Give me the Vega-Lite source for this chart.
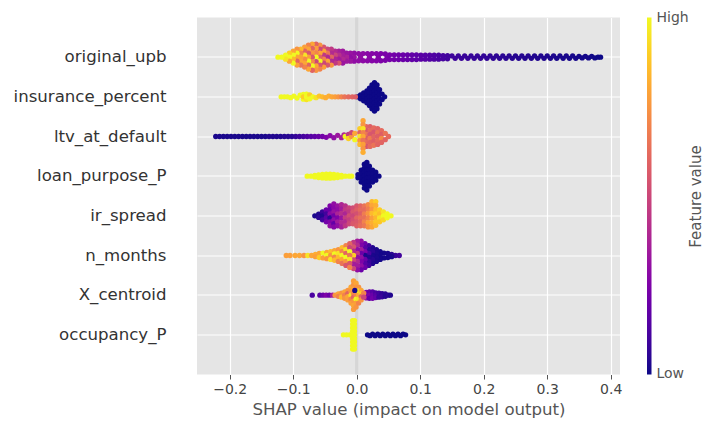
{
"$schema": "https://vega.github.io/schema/vega-lite/v6.json",
"width": 423, "height": 357,
"autosize": "none",
"padding": {"left": 197, "top": 17.5, "right": 84, "bottom": 47.5},
"background": "white",
"config": {"view": {"fill": "#e5e5e5", "stroke": null}, "font": "DejaVu Sans"},
"datasets": {
"a": [
{"x":0.003,"o":-0.09,"v":0.3},{"x":0.003,"o":0.09,"v":0.3},{"x":0.006,"o":0,"v":0.3},
{"x":0.01,"o":-0.09,"v":0.29},{"x":0.01,"o":0.09,"v":0.29},
{"x":0.017,"o":-0.09,"v":0.28},{"x":0.017,"o":0.09,"v":0.28},{"x":0.02,"o":0,"v":0.28},
{"x":0.024,"o":-0.09,"v":0.27},{"x":0.024,"o":0.09,"v":0.27},
{"x":0.031,"o":-0.09,"v":0.26},{"x":0.031,"o":0.09,"v":0.26},{"x":0.034,"o":0,"v":0.26},
{"x":0.038,"o":-0.09,"v":0.25},{"x":0.038,"o":0.09,"v":0.25},
{"x":0.045,"o":-0.08,"v":0.24},{"x":0.045,"o":0.08,"v":0.24},{"x":0.048,"o":0,"v":0.24},
{"x":0.052,"o":-0.06,"v":0.23},{"x":0.052,"o":0.06,"v":0.23},
{"x":0.059,"o":-0.06,"v":0.22},{"x":0.059,"o":0.06,"v":0.22},
{"x":0.066,"o":-0.06,"v":0.21},{"x":0.066,"o":0.06,"v":0.21},
{"x":0.073,"o":-0.06,"v":0.2},{"x":0.073,"o":0.06,"v":0.2},
{"x":0.08,"o":-0.06,"v":0.19},{"x":0.08,"o":0.06,"v":0.19},
{"x":0.087,"o":-0.06,"v":0.18},{"x":0.087,"o":0.06,"v":0.18},
{"x":0.094,"o":-0.06,"v":0.17},{"x":0.094,"o":0.06,"v":0.17},
{"x":0.101,"o":-0.05,"v":0.16},{"x":0.101,"o":0.05,"v":0.16},
{"x":0.108,"o":-0.05,"v":0.15},{"x":0.108,"o":0.05,"v":0.15},
{"x":0.115,"o":-0.05,"v":0.14},{"x":0.115,"o":0.05,"v":0.14},
{"x":0.122,"o":-0.05,"v":0.13},{"x":0.122,"o":0.05,"v":0.13},
{"x":0.129,"o":-0.05,"v":0.12},{"x":0.129,"o":0.05,"v":0.12},
{"x":0.136,"o":-0.04,"v":0.11},{"x":0.136,"o":0.04,"v":0.11},
{"x":0.143,"o":-0.04,"v":0.1},{"x":0.143,"o":0.04,"v":0.1},
{"x":0.15,"o":-0.03,"v":0.09},{"x":0.155,"o":0.03,"v":0.09},{"x":0.16,"o":-0.03,"v":0.085},{"x":0.165,"o":0.03,"v":0.085},
{"x":0.17,"o":-0.03,"v":0.08},{"x":0.175,"o":0.03,"v":0.08},{"x":0.18,"o":-0.03,"v":0.075},{"x":0.185,"o":0.03,"v":0.075},
{"x":0.19,"o":-0.03,"v":0.07},{"x":0.195,"o":0.03,"v":0.07},{"x":0.2,"o":-0.03,"v":0.065},{"x":0.205,"o":0.03,"v":0.065},
{"x":0.21,"o":-0.03,"v":0.06},{"x":0.215,"o":0.03,"v":0.06},{"x":0.22,"o":-0.03,"v":0.055},{"x":0.225,"o":0.03,"v":0.055},
{"x":0.23,"o":-0.03,"v":0.05},{"x":0.235,"o":0.03,"v":0.05},{"x":0.24,"o":-0.03,"v":0.045},{"x":0.245,"o":0.03,"v":0.045},
{"x":0.25,"o":-0.03,"v":0.04},{"x":0.255,"o":0.03,"v":0.04},{"x":0.26,"o":-0.03,"v":0.04},{"x":0.265,"o":0.03,"v":0.035},
{"x":0.27,"o":-0.03,"v":0.035},{"x":0.275,"o":0.03,"v":0.035},{"x":0.28,"o":-0.03,"v":0.03},{"x":0.285,"o":0.03,"v":0.03},
{"x":0.29,"o":-0.03,"v":0.03},{"x":0.295,"o":0.03,"v":0.03},{"x":0.3,"o":-0.03,"v":0.025},{"x":0.305,"o":0.03,"v":0.025},
{"x":0.31,"o":-0.03,"v":0.025},{"x":0.315,"o":0.03,"v":0.02},{"x":0.32,"o":-0.03,"v":0.02},{"x":0.325,"o":0.03,"v":0.02},
{"x":0.33,"o":-0.03,"v":0.02},{"x":0.335,"o":0.03,"v":0.015},{"x":0.34,"o":-0.03,"v":0.015},{"x":0.345,"o":0.03,"v":0.015},
{"x":0.35,"o":-0.02,"v":0.01},{"x":0.355,"o":0.02,"v":0.01},{"x":0.36,"o":-0.02,"v":0.01},{"x":0.365,"o":0.02,"v":0.01},
{"x":0.37,"o":-0.02,"v":0.005},{"x":0.375,"o":0.02,"v":0.005},{"x":0.38,"o":0,"v":0},{"x":0.384,"o":0,"v":0},
{"x":-0.004,"o":-0.1,"v":0.3},{"x":-0.004,"o":0,"v":0.32},{"x":-0.004,"o":0.1,"v":0.3},
{"x":-0.01,"o":-0.1,"v":0.32},{"x":-0.01,"o":0,"v":0.3},{"x":-0.01,"o":0.1,"v":0.33},
{"x":-0.016,"o":-0.1,"v":0.33},{"x":-0.016,"o":0,"v":0.38},{"x":-0.016,"o":0.1,"v":0.34},
{"x":-0.022,"o":-0.15,"v":0.34},{"x":-0.022,"o":-0.05,"v":0.36},{"x":-0.022,"o":0.05,"v":0.4},{"x":-0.022,"o":0.15,"v":0.33},
{"x":-0.028,"o":-0.15,"v":0.36},{"x":-0.028,"o":-0.05,"v":0.42},{"x":-0.028,"o":0.05,"v":0.35},{"x":-0.028,"o":0.15,"v":0.55},
{"x":-0.034,"o":-0.15,"v":0.4},{"x":-0.034,"o":-0.05,"v":0.5},{"x":-0.034,"o":0.05,"v":0.38},{"x":-0.034,"o":0.15,"v":0.45},
{"x":-0.04,"o":-0.2,"v":0.45},{"x":-0.04,"o":-0.1,"v":0.4},{"x":-0.04,"o":0,"v":0.6},{"x":-0.04,"o":0.1,"v":0.4},{"x":-0.04,"o":0.2,"v":0.75},
{"x":-0.046,"o":-0.2,"v":0.5},{"x":-0.046,"o":-0.1,"v":0.65},{"x":-0.046,"o":0,"v":0.4},{"x":-0.046,"o":0.1,"v":0.8},{"x":-0.046,"o":0.2,"v":0.55},
{"x":-0.052,"o":-0.25,"v":0.55},{"x":-0.052,"o":-0.15,"v":0.8},{"x":-0.052,"o":-0.05,"v":0.45},{"x":-0.052,"o":0.05,"v":0.7},{"x":-0.052,"o":0.15,"v":0.5},{"x":-0.052,"o":0.25,"v":0.78},
{"x":-0.058,"o":-0.3,"v":0.75},{"x":-0.058,"o":-0.2,"v":0.5},{"x":-0.058,"o":-0.1,"v":0.8},{"x":-0.058,"o":0,"v":0.6},{"x":-0.058,"o":0.1,"v":1},{"x":-0.058,"o":0.2,"v":0.55},{"x":-0.058,"o":0.3,"v":0.7},
{"x":-0.064,"o":-0.33,"v":0.6},{"x":-0.064,"o":-0.22,"v":0.78},{"x":-0.064,"o":-0.11,"v":0.7},{"x":-0.064,"o":0,"v":1},{"x":-0.064,"o":0.11,"v":0.5},{"x":-0.064,"o":0.22,"v":0.8},{"x":-0.064,"o":0.33,"v":0.75},
{"x":-0.07,"o":-0.33,"v":0.8},{"x":-0.07,"o":-0.22,"v":0.6},{"x":-0.07,"o":-0.11,"v":0.75},{"x":-0.07,"o":0,"v":0.55},{"x":-0.07,"o":0.11,"v":0.72},{"x":-0.07,"o":0.22,"v":1},{"x":-0.07,"o":0.33,"v":0.6},
{"x":-0.076,"o":-0.3,"v":0.7},{"x":-0.076,"o":-0.2,"v":0.8},{"x":-0.076,"o":-0.1,"v":0.55},{"x":-0.076,"o":0,"v":0.78},{"x":-0.076,"o":0.1,"v":1},{"x":-0.076,"o":0.2,"v":0.6},{"x":-0.076,"o":0.3,"v":0.8},
{"x":-0.082,"o":-0.25,"v":0.78},{"x":-0.082,"o":-0.15,"v":0.6},{"x":-0.082,"o":-0.05,"v":0.95},{"x":-0.082,"o":0.05,"v":0.72},{"x":-0.082,"o":0.15,"v":0.8},{"x":-0.082,"o":0.25,"v":0.7},
{"x":-0.088,"o":-0.2,"v":0.85},{"x":-0.088,"o":-0.1,"v":0.7},{"x":-0.088,"o":0,"v":0.78},{"x":-0.088,"o":0.1,"v":0.8},{"x":-0.088,"o":0.2,"v":0.65},
{"x":-0.094,"o":-0.2,"v":0.75},{"x":-0.094,"o":-0.1,"v":1},{"x":-0.094,"o":0,"v":0.8},{"x":-0.094,"o":0.1,"v":0.6},{"x":-0.094,"o":0.2,"v":0.78},
{"x":-0.1,"o":-0.15,"v":0.8},{"x":-0.1,"o":-0.05,"v":1},{"x":-0.1,"o":0.05,"v":0.85},{"x":-0.1,"o":0.15,"v":1},
{"x":-0.106,"o":-0.1,"v":0.9},{"x":-0.106,"o":0,"v":1},{"x":-0.106,"o":0.1,"v":0.8},
{"x":-0.112,"o":-0.05,"v":1},{"x":-0.112,"o":0.05,"v":0.95},
{"x":-0.118,"o":0,"v":1},{"x":-0.124,"o":0,"v":1}
],
"b": [
{"x":0.001,"o":0,"v":0},
{"x":0.006,"o":-0.05,"v":0},{"x":0.006,"o":0.05,"v":0},
{"x":0.011,"o":-0.1,"v":0},{"x":0.011,"o":0,"v":0},{"x":0.011,"o":0.1,"v":0},
{"x":0.016,"o":-0.15,"v":0},{"x":0.016,"o":-0.05,"v":0},{"x":0.016,"o":0.05,"v":0},{"x":0.016,"o":0.15,"v":0},
{"x":0.02,"o":-0.22,"v":0},{"x":0.02,"o":-0.11,"v":0},{"x":0.02,"o":0,"v":0},{"x":0.02,"o":0.11,"v":0},{"x":0.02,"o":0.22,"v":0},
{"x":0.024,"o":-0.3,"v":0},{"x":0.024,"o":-0.2,"v":0},{"x":0.024,"o":-0.1,"v":0},{"x":0.024,"o":0,"v":0},{"x":0.024,"o":0.1,"v":0},{"x":0.024,"o":0.2,"v":0},{"x":0.024,"o":0.3,"v":0},
{"x":0.028,"o":-0.36,"v":0},{"x":0.028,"o":-0.26,"v":0},{"x":0.028,"o":-0.15,"v":0},{"x":0.028,"o":-0.05,"v":0},{"x":0.028,"o":0.05,"v":0},{"x":0.028,"o":0.15,"v":0},{"x":0.028,"o":0.26,"v":0},{"x":0.028,"o":0.36,"v":0},
{"x":0.032,"o":-0.3,"v":0},{"x":0.032,"o":-0.2,"v":0},{"x":0.032,"o":-0.1,"v":0},{"x":0.032,"o":0,"v":0},{"x":0.032,"o":0.1,"v":0},{"x":0.032,"o":0.2,"v":0},{"x":0.032,"o":0.3,"v":0},
{"x":0.036,"o":-0.18,"v":0},{"x":0.036,"o":-0.06,"v":0},{"x":0.036,"o":0.06,"v":0},{"x":0.036,"o":0.18,"v":0},
{"x":0.04,"o":-0.07,"v":0},{"x":0.04,"o":0.07,"v":0},{"x":0.044,"o":0,"v":0},
{"x":-0.119,"o":0,"v":1},{"x":-0.114,"o":0,"v":1},{"x":-0.109,"o":0,"v":1},{"x":-0.104,"o":0.02,"v":1},{"x":-0.099,"o":-0.02,"v":1},
{"x":-0.094,"o":0.03,"v":1},{"x":-0.089,"o":-0.04,"v":1},
{"x":-0.084,"o":-0.06,"v":1},{"x":-0.084,"o":0.06,"v":1},{"x":-0.084,"o":0,"v":0.9},
{"x":-0.079,"o":-0.07,"v":1},{"x":-0.079,"o":0.07,"v":0.95},{"x":-0.079,"o":0,"v":1},
{"x":-0.074,"o":-0.05,"v":0.9},{"x":-0.074,"o":0.05,"v":1},
{"x":-0.069,"o":0,"v":1},{"x":-0.064,"o":0.02,"v":0.95},{"x":-0.059,"o":-0.02,"v":0.88},{"x":-0.054,"o":0,"v":0.85},
{"x":-0.049,"o":0.02,"v":0.82},{"x":-0.044,"o":-0.02,"v":0.82},{"x":-0.039,"o":0,"v":0.8},{"x":-0.034,"o":0,"v":0.78},
{"x":-0.029,"o":0,"v":0.75},{"x":-0.024,"o":0,"v":0.7},{"x":-0.019,"o":0,"v":0.65},{"x":-0.013,"o":0,"v":0.62},
{"x":-0.007,"o":0,"v":0.6},{"x":-0.002,"o":0,"v":0.58}
],
"c": [
{"x":-0.222,"o":0,"v":0.02},{"x":-0.216,"o":0,"v":0.02},{"x":-0.21,"o":0,"v":0.02},{"x":-0.204,"o":0,"v":0.02},
{"x":-0.198,"o":0,"v":0.02},{"x":-0.192,"o":0,"v":0.02},{"x":-0.186,"o":0,"v":0.02},{"x":-0.18,"o":0,"v":0.02},
{"x":-0.174,"o":0,"v":0.02},{"x":-0.168,"o":0,"v":0.02},{"x":-0.162,"o":0,"v":0.02},{"x":-0.156,"o":0,"v":0.02},
{"x":-0.15,"o":0,"v":0.02},{"x":-0.144,"o":0,"v":0.02},{"x":-0.138,"o":0,"v":0.03},{"x":-0.132,"o":0,"v":0.03},
{"x":-0.126,"o":0,"v":0.03},{"x":-0.12,"o":0,"v":0.03},{"x":-0.114,"o":0,"v":0.04},{"x":-0.108,"o":0,"v":0.04},
{"x":-0.102,"o":0,"v":0.05},{"x":-0.096,"o":0,"v":0.07},{"x":-0.09,"o":0,"v":0.09},{"x":-0.084,"o":0,"v":0.11},
{"x":-0.078,"o":0,"v":0.13},{"x":-0.072,"o":0,"v":0.15},{"x":-0.066,"o":0,"v":0.17},{"x":-0.06,"o":0,"v":0.19},
{"x":-0.054,"o":0,"v":0.22},{"x":-0.048,"o":0.02,"v":0.25},{"x":-0.042,"o":-0.02,"v":0.28},{"x":-0.036,"o":0.03,"v":0.3},
{"x":-0.03,"o":-0.03,"v":0.33},{"x":-0.024,"o":0.03,"v":0.36},{"x":-0.02,"o":-0.04,"v":0.4},
{"x":-0.018,"o":0,"v":1},{"x":-0.013,"o":-0.05,"v":0.45},{"x":-0.013,"o":0.05,"v":0.9},
{"x":-0.008,"o":0,"v":0.75},{"x":-0.008,"o":-0.1,"v":0.5},{"x":-0.003,"o":0.08,"v":1},{"x":-0.003,"o":-0.08,"v":0.8},
{"x":0.015,"o":-0.25,"v":0.6},{"x":0.015,"o":-0.15,"v":0.55},{"x":0.015,"o":-0.05,"v":0.65},{"x":0.015,"o":0.05,"v":0.58},{"x":0.015,"o":0.15,"v":0.62},{"x":0.015,"o":0.25,"v":0.55},
{"x":0.021,"o":-0.25,"v":0.58},{"x":0.021,"o":-0.15,"v":0.62},{"x":0.021,"o":-0.05,"v":0.55},{"x":0.021,"o":0.05,"v":0.68},{"x":0.021,"o":0.15,"v":0.6},{"x":0.021,"o":0.25,"v":0.62},
{"x":0.027,"o":-0.22,"v":0.62},{"x":0.027,"o":-0.11,"v":0.55},{"x":0.027,"o":0,"v":0.6},{"x":0.027,"o":0.11,"v":0.58},{"x":0.027,"o":0.22,"v":0.65},
{"x":0.033,"o":-0.2,"v":0.6},{"x":0.033,"o":-0.1,"v":0.65},{"x":0.033,"o":0,"v":0.58},{"x":0.033,"o":0.1,"v":0.62},{"x":0.033,"o":0.2,"v":0.6},
{"x":0.039,"o":-0.15,"v":0.62},{"x":0.039,"o":-0.05,"v":0.58},{"x":0.039,"o":0.05,"v":0.72},{"x":0.039,"o":0.15,"v":0.6},
{"x":0.045,"o":-0.08,"v":0.65},{"x":0.045,"o":0.08,"v":0.6},{"x":0.05,"o":0,"v":0.62},
{"x":0.005,"o":-0.2,"v":0.9},{"x":0.005,"o":-0.1,"v":0.6},{"x":0.005,"o":0,"v":0.95},{"x":0.005,"o":0.1,"v":0.75},{"x":0.005,"o":0.2,"v":0.85},
{"x":0.01,"o":-0.4,"v":0.8},{"x":0.01,"o":-0.3,"v":0.75},{"x":0.01,"o":-0.2,"v":0.95},{"x":0.01,"o":-0.1,"v":0.7},{"x":0.01,"o":0,"v":0.8},{"x":0.01,"o":0.1,"v":0.65},{"x":0.01,"o":0.2,"v":0.78},{"x":0.01,"o":0.3,"v":0.75},{"x":0.01,"o":0.4,"v":0.82}
],
"d": [
{"x":0.002,"o":-0.04,"v":0},{"x":0.002,"o":0.04,"v":0},
{"x":0.007,"o":-0.15,"v":0},{"x":0.007,"o":-0.05,"v":0},{"x":0.007,"o":0.05,"v":0},{"x":0.007,"o":0.15,"v":0},
{"x":0.012,"o":-0.3,"v":0},{"x":0.012,"o":-0.2,"v":0},{"x":0.012,"o":-0.1,"v":0},{"x":0.012,"o":0,"v":0},{"x":0.012,"o":0.1,"v":0},{"x":0.012,"o":0.2,"v":0},{"x":0.012,"o":0.3,"v":0},
{"x":0.016,"o":-0.35,"v":0},{"x":0.016,"o":-0.25,"v":0},{"x":0.016,"o":-0.15,"v":0},{"x":0.016,"o":-0.05,"v":0},{"x":0.016,"o":0.05,"v":0},{"x":0.016,"o":0.15,"v":0},{"x":0.016,"o":0.25,"v":0},{"x":0.016,"o":0.35,"v":0},
{"x":0.02,"o":-0.25,"v":0},{"x":0.02,"o":-0.15,"v":0},{"x":0.02,"o":-0.05,"v":0},{"x":0.02,"o":0.05,"v":0},{"x":0.02,"o":0.15,"v":0},{"x":0.02,"o":0.25,"v":0},
{"x":0.025,"o":-0.15,"v":0},{"x":0.025,"o":-0.05,"v":0},{"x":0.025,"o":0.05,"v":0},{"x":0.025,"o":0.15,"v":0},
{"x":0.03,"o":-0.1,"v":0},{"x":0.03,"o":0,"v":0},{"x":0.03,"o":0.1,"v":0},{"x":0.035,"o":0,"v":0},
{"x":-0.078,"o":0,"v":1},{"x":-0.072,"o":0,"v":1},
{"x":-0.066,"o":-0.02,"v":1},{"x":-0.066,"o":0.02,"v":1},
{"x":-0.06,"o":-0.035,"v":1},{"x":-0.06,"o":0.035,"v":1},
{"x":-0.054,"o":-0.045,"v":1},{"x":-0.054,"o":0.045,"v":1},
{"x":-0.048,"o":-0.05,"v":1},{"x":-0.048,"o":0,"v":1},{"x":-0.048,"o":0.05,"v":1},
{"x":-0.042,"o":-0.05,"v":1},{"x":-0.042,"o":0,"v":1},{"x":-0.042,"o":0.05,"v":1},
{"x":-0.036,"o":-0.045,"v":1},{"x":-0.036,"o":0.045,"v":1},
{"x":-0.03,"o":-0.035,"v":1},{"x":-0.03,"o":0.035,"v":1},
{"x":-0.024,"o":-0.02,"v":1},{"x":-0.024,"o":0.02,"v":1},
{"x":-0.018,"o":0,"v":1},{"x":-0.012,"o":0,"v":1},{"x":-0.008,"o":0,"v":1}
],
"e": [
{"x":-0.066,"o":0,"v":0.02},
{"x":-0.06,"o":-0.04,"v":0.03},{"x":-0.06,"o":0.04,"v":0.05},
{"x":-0.054,"o":-0.1,"v":0.08},{"x":-0.054,"o":0,"v":0.03},{"x":-0.054,"o":0.1,"v":0.1},
{"x":-0.048,"o":-0.15,"v":0.2},{"x":-0.048,"o":-0.05,"v":0.1},{"x":-0.048,"o":0.05,"v":0.15},{"x":-0.048,"o":0.15,"v":0.22},
{"x":-0.042,"o":-0.25,"v":0.25},{"x":-0.042,"o":-0.15,"v":0.2},{"x":-0.042,"o":-0.05,"v":0.28},{"x":-0.042,"o":0.05,"v":0.05},{"x":-0.042,"o":0.15,"v":0.25},{"x":-0.042,"o":0.25,"v":0.3},
{"x":-0.036,"o":-0.3,"v":0.3},{"x":-0.036,"o":-0.2,"v":0.28},{"x":-0.036,"o":-0.1,"v":0.32},{"x":-0.036,"o":0,"v":0.22},{"x":-0.036,"o":0.1,"v":0.3},{"x":-0.036,"o":0.2,"v":0.18},{"x":-0.036,"o":0.28,"v":0.27},
{"x":-0.03,"o":-0.25,"v":0.32},{"x":-0.03,"o":-0.15,"v":0.3},{"x":-0.03,"o":-0.05,"v":0.38},{"x":-0.03,"o":0.05,"v":0.25},{"x":-0.03,"o":0.15,"v":0.35},{"x":-0.03,"o":0.25,"v":0.3},
{"x":-0.024,"o":-0.28,"v":0.38},{"x":-0.024,"o":-0.17,"v":0.35},{"x":-0.024,"o":-0.06,"v":0.42},{"x":-0.024,"o":0.06,"v":0.33},{"x":-0.024,"o":0.17,"v":0.4},{"x":-0.024,"o":0.28,"v":0.36},
{"x":-0.018,"o":-0.25,"v":0.42},{"x":-0.018,"o":-0.15,"v":0.45},{"x":-0.018,"o":-0.05,"v":0.38},{"x":-0.018,"o":0.05,"v":0.47},{"x":-0.018,"o":0.15,"v":0.4},{"x":-0.018,"o":0.25,"v":0.44},
{"x":-0.012,"o":-0.2,"v":0.48},{"x":-0.012,"o":-0.1,"v":0.45},{"x":-0.012,"o":0,"v":0.52},{"x":-0.012,"o":0.1,"v":0.47},{"x":-0.012,"o":0.2,"v":0.5},
{"x":-0.006,"o":-0.2,"v":0.52},{"x":-0.006,"o":-0.1,"v":0.55},{"x":-0.006,"o":0,"v":0.5},{"x":-0.006,"o":0.1,"v":0.53},{"x":-0.006,"o":0.2,"v":0.56},
{"x":0,"o":-0.25,"v":0.55},{"x":0,"o":-0.15,"v":0.58},{"x":0,"o":-0.05,"v":0.53},{"x":0,"o":0.05,"v":0.6},{"x":0,"o":0.15,"v":0.56},{"x":0,"o":0.25,"v":0.58},
{"x":0.006,"o":-0.25,"v":0.6},{"x":0.006,"o":-0.15,"v":0.62},{"x":0.006,"o":-0.05,"v":0.58},{"x":0.006,"o":0.05,"v":0.64},{"x":0.006,"o":0.15,"v":0.6},{"x":0.006,"o":0.25,"v":0.63},
{"x":0.012,"o":-0.25,"v":0.65},{"x":0.012,"o":-0.15,"v":0.62},{"x":0.012,"o":-0.05,"v":0.68},{"x":0.012,"o":0.05,"v":0.64},{"x":0.012,"o":0.15,"v":0.7},{"x":0.012,"o":0.25,"v":0.66},
{"x":0.018,"o":-0.28,"v":0.72},{"x":0.018,"o":-0.17,"v":0.68},{"x":0.018,"o":-0.06,"v":0.75},{"x":0.018,"o":0.06,"v":0.7},{"x":0.018,"o":0.17,"v":0.78},{"x":0.018,"o":0.28,"v":0.74},
{"x":0.024,"o":-0.36,"v":0.85},{"x":0.024,"o":-0.26,"v":0.8},{"x":0.024,"o":-0.16,"v":0.76},{"x":0.024,"o":-0.06,"v":0.85},{"x":0.024,"o":0.06,"v":0.78},{"x":0.024,"o":0.17,"v":0.82},{"x":0.024,"o":0.28,"v":0.8},
{"x":0.03,"o":-0.36,"v":0.9},{"x":0.03,"o":-0.26,"v":0.82},{"x":0.03,"o":-0.15,"v":0.85},{"x":0.03,"o":-0.05,"v":0.9},{"x":0.03,"o":0.05,"v":0.84},{"x":0.03,"o":0.15,"v":0.88},{"x":0.03,"o":0.24,"v":0.85},
{"x":0.036,"o":-0.15,"v":0.9},{"x":0.036,"o":-0.05,"v":0.86},{"x":0.036,"o":0.05,"v":0.95},{"x":0.036,"o":0.15,"v":0.88},
{"x":0.042,"o":-0.1,"v":0.95},{"x":0.042,"o":0,"v":1},{"x":0.042,"o":0.1,"v":0.92},
{"x":0.048,"o":-0.05,"v":1},{"x":0.048,"o":0.05,"v":1},{"x":0.054,"o":0,"v":1}
],
"f": [
{"x":-0.111,"o":0,"v":0.78},{"x":-0.105,"o":0,"v":0.78},{"x":-0.097,"o":0,"v":0.8},{"x":-0.09,"o":0,"v":0.8},
{"x":-0.083,"o":0,"v":0.75},{"x":-0.077,"o":0,"v":0.95},{"x":-0.071,"o":0,"v":0.8},
{"x":-0.065,"o":-0.03,"v":0.82},{"x":-0.065,"o":0.03,"v":0.78},
{"x":-0.059,"o":-0.05,"v":0.8},{"x":-0.059,"o":0.05,"v":0.9},
{"x":-0.053,"o":-0.06,"v":1},{"x":-0.053,"o":0.06,"v":0.78},
{"x":-0.047,"o":-0.08,"v":0.8},{"x":-0.047,"o":0,"v":1},{"x":-0.047,"o":0.08,"v":0.75},
{"x":-0.041,"o":-0.1,"v":0.85},{"x":-0.041,"o":0,"v":0.75},{"x":-0.041,"o":0.1,"v":0.95},
{"x":-0.035,"o":-0.12,"v":0.8},{"x":-0.035,"o":-0.04,"v":1},{"x":-0.035,"o":0.04,"v":0.7},{"x":-0.035,"o":0.12,"v":0.85},
{"x":-0.029,"o":-0.15,"v":0.75},{"x":-0.029,"o":-0.05,"v":0.95},{"x":-0.029,"o":0.05,"v":0.85},{"x":-0.029,"o":0.15,"v":0.7},
{"x":-0.023,"o":-0.2,"v":0.85},{"x":-0.023,"o":-0.1,"v":0.7},{"x":-0.023,"o":0,"v":1},{"x":-0.023,"o":0.1,"v":0.8},{"x":-0.023,"o":0.2,"v":0.65},
{"x":-0.017,"o":-0.25,"v":0.7},{"x":-0.017,"o":-0.15,"v":0.95},{"x":-0.017,"o":-0.05,"v":0.6},{"x":-0.017,"o":0.05,"v":1},{"x":-0.017,"o":0.15,"v":0.75},{"x":-0.017,"o":0.25,"v":0.55},
{"x":0.067,"o":0,"v":0.1},{"x":0.061,"o":0,"v":0.08},
{"x":0.055,"o":-0.03,"v":0.05},{"x":0.055,"o":0.03,"v":0.02},
{"x":0.049,"o":-0.05,"v":0.02},{"x":0.049,"o":0.05,"v":0.01},
{"x":0.043,"o":-0.06,"v":0.01},{"x":0.043,"o":0.06,"v":0.01},
{"x":0.037,"o":-0.1,"v":0.01},{"x":0.037,"o":0,"v":0.01},{"x":0.037,"o":0.1,"v":0.01},
{"x":0.031,"o":-0.15,"v":0.02},{"x":0.031,"o":-0.05,"v":0.02},{"x":0.031,"o":0.05,"v":0.02},{"x":0.031,"o":0.15,"v":0.02},
{"x":0.025,"o":-0.2,"v":0.03},{"x":0.025,"o":-0.1,"v":0.05},{"x":0.025,"o":0,"v":0.02},{"x":0.025,"o":0.1,"v":0.04},{"x":0.025,"o":0.2,"v":0.03},
{"x":0.019,"o":-0.25,"v":0.1},{"x":0.019,"o":-0.15,"v":0.05},{"x":0.019,"o":-0.05,"v":0.12},{"x":0.019,"o":0.05,"v":0.03},{"x":0.019,"o":0.15,"v":0.08},{"x":0.019,"o":0.25,"v":0.1},
{"x":0.013,"o":-0.3,"v":0.2},{"x":0.013,"o":-0.2,"v":0.15},{"x":0.013,"o":-0.1,"v":0.25},{"x":0.013,"o":0,"v":0.02},{"x":0.013,"o":0.1,"v":0.2},{"x":0.013,"o":0.2,"v":0.15},{"x":0.013,"o":0.3,"v":0.2},
{"x":0.007,"o":-0.36,"v":0.3},{"x":0.007,"o":-0.26,"v":0.25},{"x":0.007,"o":-0.15,"v":0.35},{"x":0.007,"o":-0.05,"v":0.2},{"x":0.007,"o":0.05,"v":0.3},{"x":0.007,"o":0.15,"v":0.25},{"x":0.007,"o":0.26,"v":0.3},{"x":0.007,"o":0.36,"v":0.2},
{"x":0.001,"o":-0.36,"v":0.35},{"x":0.001,"o":-0.26,"v":0.4},{"x":0.001,"o":-0.15,"v":0.3},{"x":0.001,"o":-0.05,"v":0.45},{"x":0.001,"o":0.05,"v":0.3},{"x":0.001,"o":0.15,"v":0.4},{"x":0.001,"o":0.26,"v":0.35},{"x":0.001,"o":0.36,"v":0.3},
{"x":-0.005,"o":-0.33,"v":0.45},{"x":-0.005,"o":-0.22,"v":0.55},{"x":-0.005,"o":-0.11,"v":0.4},{"x":-0.005,"o":0,"v":0.9},{"x":-0.005,"o":0.11,"v":0.5},{"x":-0.005,"o":0.22,"v":0.35},{"x":-0.005,"o":0.33,"v":0.5},
{"x":-0.011,"o":-0.3,"v":0.6},{"x":-0.011,"o":-0.2,"v":0.5},{"x":-0.011,"o":-0.1,"v":1},{"x":-0.011,"o":0,"v":0.65},{"x":-0.011,"o":0.1,"v":0.95},{"x":-0.011,"o":0.2,"v":0.55},{"x":-0.011,"o":0.3,"v":0.7}
],
"g": [
{"x":-0.07,"o":0,"v":0.12},{"x":-0.058,"o":0,"v":0.15},{"x":-0.053,"o":0,"v":0.2},{"x":-0.048,"o":0,"v":0.25},{"x":-0.043,"o":0,"v":0.2},{"x":-0.038,"o":0,"v":0.35},
{"x":0.015,"o":-0.07,"v":0.25},{"x":0.015,"o":0,"v":0.2},{"x":0.015,"o":0.07,"v":0.3},
{"x":0.02,"o":-0.08,"v":0.2},{"x":0.02,"o":0,"v":0.25},{"x":0.02,"o":0.08,"v":0.18},
{"x":0.025,"o":-0.08,"v":0.15},{"x":0.025,"o":0,"v":0.2},{"x":0.025,"o":0.08,"v":0.22},
{"x":0.03,"o":-0.06,"v":0.12},{"x":0.03,"o":0,"v":0.15},{"x":0.03,"o":0.06,"v":0.18},
{"x":0.035,"o":-0.05,"v":0.1},{"x":0.035,"o":0.05,"v":0.08},
{"x":0.04,"o":-0.04,"v":0.06},{"x":0.04,"o":0.04,"v":0.08},
{"x":0.045,"o":-0.03,"v":0.05},{"x":0.045,"o":0.03,"v":0.04},
{"x":0.05,"o":0,"v":0.05},{"x":0.053,"o":0,"v":0.03},
{"x":-0.034,"o":0,"v":0.75},
{"x":-0.029,"o":-0.03,"v":0.8},{"x":-0.029,"o":0.03,"v":0.7},
{"x":-0.024,"o":-0.05,"v":0.75},{"x":-0.024,"o":0.05,"v":0.85},
{"x":-0.019,"o":-0.08,"v":0.8},{"x":-0.019,"o":0,"v":0.7},{"x":-0.019,"o":0.08,"v":0.75},
{"x":-0.014,"o":-0.12,"v":0.75},{"x":-0.014,"o":-0.04,"v":0.6},{"x":-0.014,"o":0.04,"v":0.8},{"x":-0.014,"o":0.12,"v":0.78},
{"x":-0.009,"o":-0.2,"v":0.8},{"x":-0.009,"o":-0.1,"v":0.75},{"x":-0.009,"o":0,"v":0.95},{"x":-0.009,"o":0.1,"v":0.7},{"x":-0.009,"o":0.2,"v":0.78},
{"x":-0.005,"o":-0.36,"v":0.78},{"x":-0.005,"o":-0.26,"v":0.75},{"x":-0.005,"o":-0.15,"v":0.8},{"x":-0.005,"o":-0.05,"v":0.72},{"x":-0.005,"o":0.05,"v":0.6},{"x":-0.005,"o":0.15,"v":0.75},{"x":-0.005,"o":0.26,"v":0.8},{"x":-0.005,"o":0.36,"v":0.77},
{"x":-0.001,"o":-0.3,"v":0.8},{"x":-0.001,"o":-0.2,"v":0.75},{"x":-0.001,"o":-0.1,"v":0.95},{"x":-0.001,"o":0,"v":0.7},{"x":-0.001,"o":0.1,"v":1},{"x":-0.001,"o":0.2,"v":0.78},{"x":-0.001,"o":0.3,"v":0.75},
{"x":0.003,"o":-0.2,"v":0.75},{"x":0.003,"o":-0.1,"v":1},{"x":0.003,"o":0,"v":0.8},{"x":0.003,"o":0.1,"v":0.95},{"x":0.003,"o":0.2,"v":0.7},
{"x":0.007,"o":-0.12,"v":0.8},{"x":0.007,"o":-0.04,"v":0.9},{"x":0.007,"o":0.04,"v":0.6},{"x":0.007,"o":0.12,"v":0.75},
{"x":0.011,"o":-0.05,"v":0.7},{"x":0.011,"o":0.05,"v":0.5},
{"x":-0.003,"o":-0.12,"v":0.02}
],
"h": [
{"x":0.017,"o":0,"v":0},{"x":0.021,"o":0.02,"v":0},{"x":0.025,"o":-0.02,"v":0},{"x":0.029,"o":0.02,"v":0},
{"x":0.033,"o":-0.02,"v":0},{"x":0.037,"o":0.02,"v":0},{"x":0.041,"o":-0.02,"v":0},{"x":0.045,"o":0.02,"v":0},
{"x":0.049,"o":-0.02,"v":0},{"x":0.053,"o":0.02,"v":0},{"x":0.057,"o":-0.02,"v":0},{"x":0.061,"o":0.02,"v":0},
{"x":0.065,"o":-0.02,"v":0},{"x":0.069,"o":0.02,"v":0},{"x":0.073,"o":-0.02,"v":0},{"x":0.077,"o":0,"v":0},
{"x":-0.021,"o":0,"v":1},{"x":-0.016,"o":0,"v":1},{"x":-0.011,"o":0,"v":1},
{"x":-0.0065,"o":-0.36,"v":1},{"x":-0.0065,"o":-0.27,"v":1},{"x":-0.0065,"o":-0.18,"v":1},{"x":-0.0065,"o":-0.09,"v":1},{"x":-0.0065,"o":0,"v":1},{"x":-0.0065,"o":0.09,"v":1},{"x":-0.0065,"o":0.18,"v":1},{"x":-0.0065,"o":0.27,"v":1},{"x":-0.0065,"o":0.36,"v":1},
{"x":-0.0035,"o":-0.36,"v":1},{"x":-0.0035,"o":-0.27,"v":1},{"x":-0.0035,"o":-0.18,"v":1},{"x":-0.0035,"o":-0.09,"v":1},{"x":-0.0035,"o":0,"v":1},{"x":-0.0035,"o":0.09,"v":1},{"x":-0.0035,"o":0.18,"v":1},{"x":-0.0035,"o":0.27,"v":1},{"x":-0.0035,"o":0.36,"v":1}
]
},
"resolve": {"scale": {"y": "independent"}, "axis": {"y": "independent"}},
"layer": [
{
"data": {"values": [{}]},
"mark": {"type": "rule", "color": "#d6d6d6", "strokeWidth": 3.2},
"encoding": {
"x": {"datum": 0, "type": "quantitative", "scale": {"domain": [-0.2515, 0.4146], "nice": false, "zero": false}},
"y": {"datum": 0, "type": "quantitative", "scale": {"domain": [0, 1], "nice": false}, "axis": {"orient": "right", "title": "Feature value", "titleAngle": 270, "titleBaseline": "bottom", "titlePadding": 83, "titleFontSize": 15, "titleFontWeight": "normal", "titleColor": "#555", "labels": false, "ticks": false, "domain": false, "grid": false}},
"y2": {"datum": 1}
}
},
{
"encoding": {
"x": {"field": "x", "type": "quantitative",
"scale": {"domain": [-0.2515, 0.4146], "nice": false, "zero": false},
"axis": {"values": [-0.2, -0.1, 0, 0.1, 0.2, 0.3, 0.4], "format": ".1f", "labelFontSize": 14, "labelColor": "#444", "tickColor": "#555", "tickSize": 4.5, "tickWidth": 1, "domain": false, "grid": true, "gridColor": "white", "gridWidth": 1.2, "labelPadding": 3, "title": "SHAP value (impact on model output)", "titleFontSize": 16.6, "titleFontWeight": "normal", "titleColor": "#555", "titlePadding": 5}},
"yOffset": {"field": "o", "type": "quantitative", "scale": {"domain": [-0.5, 0.5], "range": [0, 39.67]}},
"color": {"field": "v", "type": "quantitative", "scale": {"scheme": "plasma", "domain": [0, 1]},
"legend": {"orient": "none", "legendX": 450, "legendY": 0, "direction": "vertical", "gradientLength": 357, "gradientThickness": 4.5, "values": [0.001, 0.999], "labelExpr": "datum.value >= 0.5 ? 'High' : 'Low'", "labelFontSize": 14, "labelColor": "#555", "labelOffset": 5, "encode": {"labels": {"update": {"baseline": {"value": "middle"}}}}, "title": null}}
},
"layer": [
{"data": {"name": "a"}, "mark": {"type": "circle", "size": 28, "opacity": 1}, "encoding": {"y": {"datum": "original_upb", "type": "nominal", "scale": {"domain": ["original_upb", "insurance_percent", "ltv_at_default", "loan_purpose_P", "ir_spread", "n_months", "X_centroid", "occupancy_P"], "paddingInner": 0, "paddingOuter": 0.5}, "axis": {"title": null, "ticks": false, "domain": false, "labelFontSize": 16.6, "labelColor": "#333", "labelPadding": 31, "grid": true, "gridColor": "white", "gridWidth": 1.2, "bandPosition": 0.5}}}},
{"data": {"name": "b"}, "mark": {"type": "circle", "size": 28, "opacity": 1}, "encoding": {"y": {"datum": "insurance_percent", "type": "nominal"}}},
{"data": {"name": "c"}, "mark": {"type": "circle", "size": 28, "opacity": 1}, "encoding": {"y": {"datum": "ltv_at_default", "type": "nominal"}}},
{"data": {"name": "d"}, "mark": {"type": "circle", "size": 28, "opacity": 1}, "encoding": {"y": {"datum": "loan_purpose_P", "type": "nominal"}}},
{"data": {"name": "e"}, "mark": {"type": "circle", "size": 28, "opacity": 1}, "encoding": {"y": {"datum": "ir_spread", "type": "nominal"}}},
{"data": {"name": "f"}, "mark": {"type": "circle", "size": 28, "opacity": 1}, "encoding": {"y": {"datum": "n_months", "type": "nominal"}}},
{"data": {"name": "g"}, "mark": {"type": "circle", "size": 28, "opacity": 1}, "encoding": {"y": {"datum": "X_centroid", "type": "nominal"}}},
{"data": {"name": "h"}, "mark": {"type": "circle", "size": 28, "opacity": 1}, "encoding": {"y": {"datum": "occupancy_P", "type": "nominal"}}}
]
}
]
}
